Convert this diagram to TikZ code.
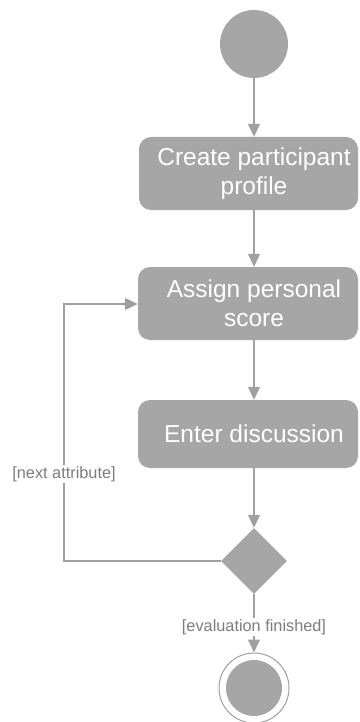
\documentclass[tikz,border=0pt]{standalone}
\usepackage{fontspec}
\setmainfont{Liberation Sans}
\usetikzlibrary{shapes.geometric,arrows.meta}
\definecolor{actfill}{RGB}{166,166,166}
\definecolor{flowline}{RGB}{160,160,160}
\definecolor{guardtext}{RGB}{125,125,125}
\tikzset{
  actbox/.style={fill=actfill, rounded corners=12pt, inner sep=0pt},
  acttext/.style={text=white, align=center, inner sep=0pt,
    font=\fontsize{24.5}{29}\selectfont},
  flow/.style={draw=flowline, line width=1.2pt,
    -{Triangle[width=12pt,length=13pt]}},
  plainflow/.style={draw=flowline, line width=1.2pt},
  guard/.style={fill=white, text=guardtext, inner sep=1.5pt,
    font=\fontsize{16.3}{19}\selectfont},
  initnode/.style={circle, fill=actfill, minimum size=68pt, inner sep=0pt},
  finalring/.style={circle, draw=flowline, line width=1pt, fill=white,
    minimum size=70pt, inner sep=0pt},
  finaldot/.style={circle, fill=actfill, minimum size=56pt, inner sep=0pt},
  decision/.style={diamond, fill=actfill, minimum width=66pt,
    minimum height=66pt, inner sep=0pt, aspect=1},
}
\begin{document}
\begin{tikzpicture}[x=1pt, y=-1pt]
\useasboundingbox (0,0) rectangle (359,722);

% start
\node[initnode] (start) at (254,44) {};

% activities
\node[actbox, minimum width=219pt, minimum height=73pt] (a1) at (248.5,173.5) {};
\node[acttext] (t1) at (254,173.5) {Create participant\\profile};

\node[actbox, minimum width=220pt, minimum height=73pt] (a2) at (248,303.5) {};
\node[acttext] (t2) at (254,303.5) {Assign personal\\score};

\node[actbox, minimum width=220pt, minimum height=68pt] (a3) at (248,434) {};
\node[acttext] (t3) at (254,434) {Enter discussion};

% decision and end
\node[decision] (dec) at (254,561) {};
\node[finalring] (endring) at (254,688) {};
\node[finaldot] (enddot) at (254,688) {};

\coordinate (loopbot) at (64,561);
\coordinate (looptop) at (64,304);

% flows
\draw[flow] (start.south) -- (start.south |- a1.north);
\draw[flow] (start.south |- a1.south) -- (start.south |- a2.north);
\draw[flow] (start.south |- a2.south) -- (start.south |- a3.north);
\draw[flow] (start.south |- a3.south) -- (dec.north);
\draw[flow] (dec.south) -- (endring.north);
\draw[flow] (dec.west) -- (loopbot) -- (looptop) -- (looptop -| a2.west);

% guards
\node[guard] (g1) at (64,474) {[next attribute]};
\node[guard] (g2) at (254,627) {[evaluation finished]};
\end{tikzpicture}
\end{document}
